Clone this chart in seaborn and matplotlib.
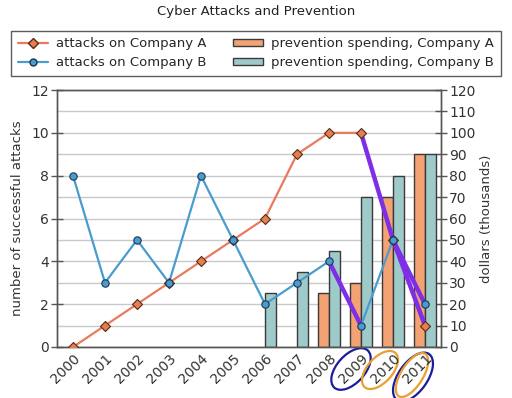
import numpy as np
import pandas as pd
import matplotlib
matplotlib.use("Agg")
import matplotlib.pyplot as plt
from matplotlib.lines import Line2D
from matplotlib.patches import Patch, Ellipse
from matplotlib.transforms import IdentityTransform, ScaledTranslation
import seaborn as sns

# ---- data ----
years = [str(y) for y in range(2000, 2012)]
attacks_a = [0, 1, 2, 3, 4, 5, 6, 9, 10, 10, 5, 1]
attacks_b = [8, 3, 5, 3, 8, 5, 2, 3, 4, 1, 5, 2]
spend_a = [np.nan] * 8 + [25, 30, 70, 90]
spend_b = [np.nan] * 6 + [25, 35, 45, 70, 80, 90]
# highlighted (hand-drawn) segments: (series, first index, last index)
highlights = [("A", 9, 11), ("B", 8, 9), ("B", 10, 11)]
circled = [("2009", "#1c1c9c"), ("2010", "#e8a030"), ("2011", "#1c1c9c"), ("2011", "#e8a030")]

title = "Cyber Attacks and Prevention"
lab_a_line = "attacks on Company A"
lab_b_line = "attacks on Company B"
lab_a_bar = "prevention spending, Company A"
lab_b_bar = "prevention spending, Company B"

sns.set_theme(style="white")
plt.rcParams["font.family"] = ["DejaVu Sans"]

c_line_a, c_mk_a = "#ea7a5e", "#e2804f"
c_line_b, c_mk_b = "#4a9ccf", "#4a9ccf"
c_bar_a, c_bar_b = "#f2a273", "#9fcaca"
c_purple = "#7d2ee6"
c_axis = "#555555"

idx = list(range(len(years)))
lines_df = pd.DataFrame({"x": idx, "A": attacks_a, "B": attacks_b})
bars_df = pd.concat([
    pd.DataFrame({"year": years, "value": spend_a, "series": "A"}),
    pd.DataFrame({"year": years, "value": spend_b, "series": "B"}),
]).dropna()

fig = plt.figure(figsize=(5.12, 3.98), dpi=100)
ax = fig.add_axes([57 / 512, 51 / 398, (441 - 57) / 512, (347 - 90) / 398])
ax2 = ax.twinx()
ax.set_zorder(2)
ax2.set_zorder(1)
ax.patch.set_visible(False)

# bars on the right axis
sns.barplot(data=bars_df, x="year", y="value", hue="series", order=years,
            hue_order=["A", "B"], palette=[c_bar_a, c_bar_b], width=0.66,
            gap=0, edgecolor="#3a3a3a", linewidth=1.0, saturation=1,
            legend=False, ax=ax2)
ax2.set_ylim(0, 120)
ax2.set_yticks(range(0, 121, 10))
ax2.yaxis.grid(True, color="#c9c9c9", linewidth=1)
ax2.set_axisbelow(True)
ax2.set_ylabel("dollars (thousands)", fontsize=9.5, color="#333333", labelpad=3)
ax2.tick_params(axis="y", labelsize=10, colors="#333333", direction="inout",
                length=8, width=1, pad=2, color=c_axis)

# lines on the left axis
sns.lineplot(data=lines_df, x="x", y="A", color=c_line_a, linewidth=1.6, ax=ax, zorder=3)
sns.lineplot(data=lines_df, x="x", y="B", color=c_line_b, linewidth=1.6, ax=ax, zorder=3)
for s, i0, i1 in highlights:
    vals = attacks_a if s == "A" else attacks_b
    seg = pd.DataFrame({"x": idx[i0:i1 + 1], "y": vals[i0:i1 + 1]})
    sns.lineplot(data=seg, x="x", y="y", color=c_purple, linewidth=3.2, ax=ax, zorder=4)
sns.scatterplot(data=lines_df, x="x", y="A", marker="D", s=26, color=c_mk_a,
                edgecolor="#5a2a18", linewidth=0.8, ax=ax, zorder=5)
sns.scatterplot(data=lines_df, x="x", y="B", marker="o", s=28, color=c_mk_b,
                edgecolor="#1a3550", linewidth=0.8, ax=ax, zorder=5)

ax.set_ylim(0, 12)
ax.set_yticks(range(0, 13, 2))
ax.set_xlim(-0.5, len(years) - 0.5)
ax.set_xticks(idx)
ax.set_xticklabels(years, rotation=45, ha="right", rotation_mode="anchor")
shift = ScaledTranslation(8 / 100, 0, fig.dpi_scale_trans)
for t in ax.get_xticklabels():
    t.set_transform(t.get_transform() + shift)
ax.set_xticks([i + 0.5 for i in idx[:-1]], minor=True)
ax.tick_params(axis="x", which="major", length=0, labelsize=10, colors="#333333", pad=3)
ax.tick_params(axis="x", which="minor", length=8, direction="inout", width=1, color=c_axis)
ax.tick_params(axis="y", labelsize=10, colors="#333333", direction="inout",
               length=8, width=1, pad=2, color=c_axis)
ax.set_xlabel("")
ax.set_ylabel("number of successful attacks", fontsize=9.5, color="#333333", labelpad=5)
for a in (ax, ax2):
    for sp in a.spines.values():
        sp.set_color(c_axis)
        sp.set_linewidth(1.0)
        sp.set_visible(True)

fig.text(0.5, 1 - 12 / 398, title, ha="center", va="center", fontsize=9.5, color="#222222")

handles = [
    Line2D([], [], color=c_line_a, marker="D", markersize=5, markerfacecolor=c_mk_a,
           markeredgecolor="#5a2a18", linewidth=1.6),
    Line2D([], [], color=c_line_b, marker="o", markersize=5, markerfacecolor=c_mk_b,
           markeredgecolor="#1a3550", linewidth=1.6),
    Patch(facecolor=c_bar_a, edgecolor="#3a3a3a"),
    Patch(facecolor=c_bar_b, edgecolor="#3a3a3a"),
]
leg = fig.legend(handles, [lab_a_line, lab_b_line, lab_a_bar, lab_b_bar],
                 loc="upper center", bbox_to_anchor=(0.5, 1 - 24 / 398), ncol=2,
                 fontsize=9.5, frameon=True, fancybox=False, edgecolor="#333333",
                 borderpad=0.5, labelspacing=0.45, columnspacing=2.0,
                 handlelength=2.3, handleheight=0.45, handletextpad=0.6)
leg.get_frame().set_linewidth(1.0)

# hand-drawn ellipses around the highlighted year labels (pixel positions)
ell_geom = {
    ("2009", "#1c1c9c"): (351, 369, 50, 28, 48),
    ("2010", "#e8a030"): (380, 370, 46, 25, 48),
    ("2011", "#1c1c9c"): (413, 377, 56, 29, 55),
    ("2011", "#e8a030"): (412, 375, 50, 22, 58),
}
for key in circled:
    x, y, w, h, ang = ell_geom[key]
    e = Ellipse((x, 398 - y), w, h, angle=ang, fill=False, edgecolor=key[1],
                linewidth=1.6, transform=IdentityTransform(), clip_on=False)
    fig.add_artist(e)

fig.savefig("out.png", dpi=100)
